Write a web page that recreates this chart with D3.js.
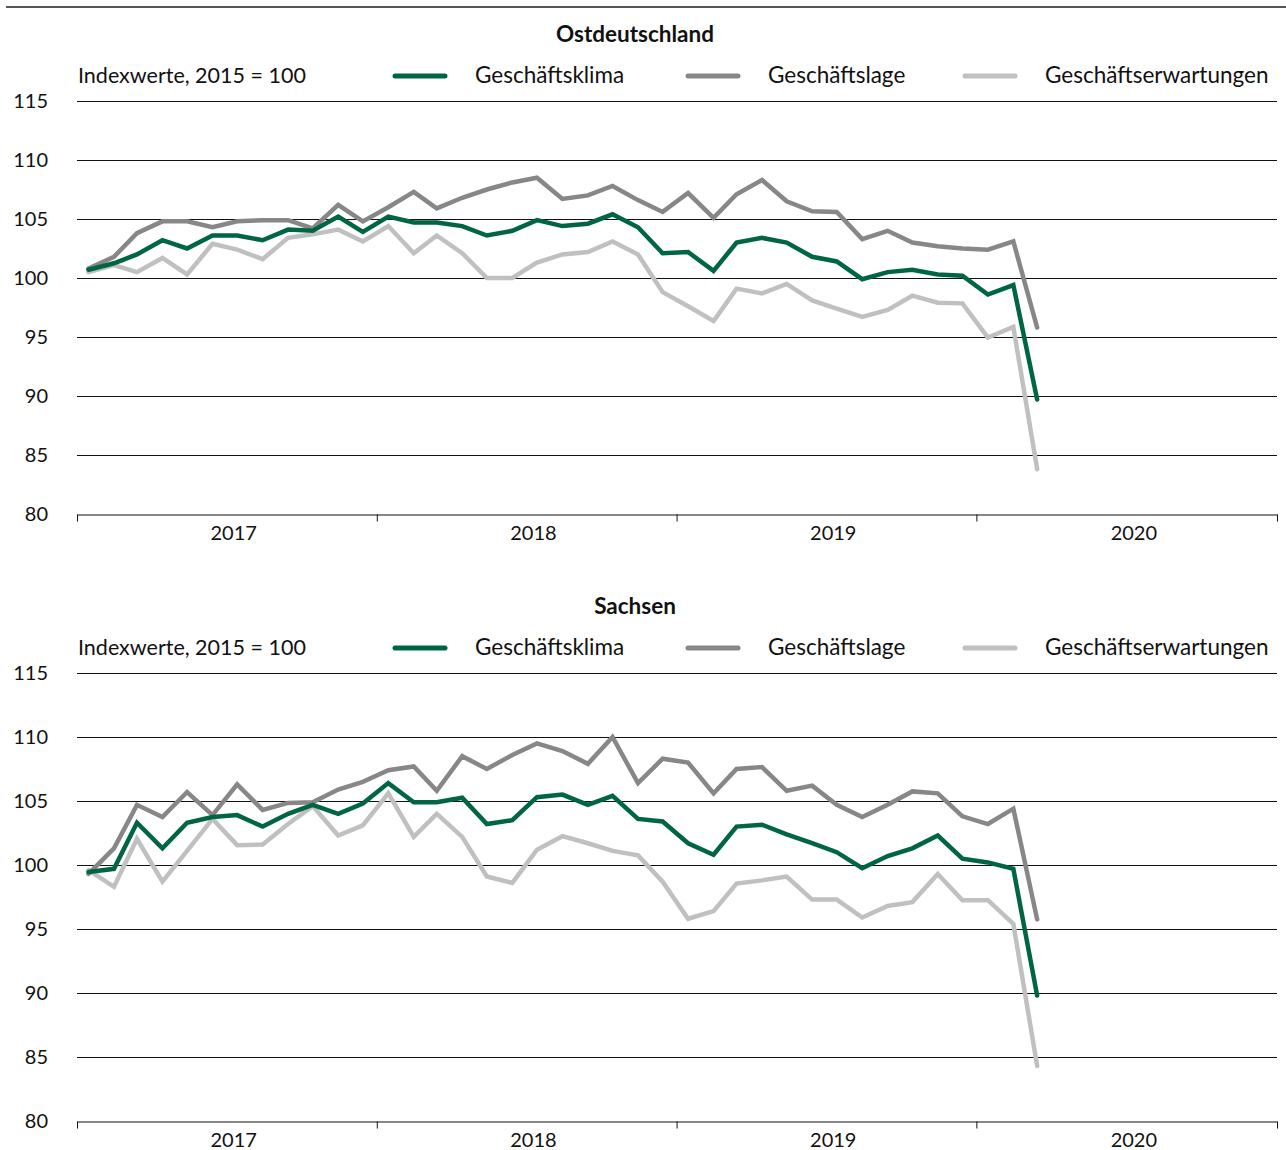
<!DOCTYPE html>
<html>
<head>
<meta charset="utf-8">
<script src="https://cdn.jsdelivr.net/npm/d3@7"></script>
<style>
  body { margin: 0; background: #fff; }
  svg { font-family: Lato, "Open Sans", sans-serif; }
</style>
</head>
<body>
<svg id="chart" width="1286" height="1150"></svg>
<script>
// months Jan 2017 .. Mar 2020
const months = d3.timeMonth.range(new Date(2017, 0, 1), new Date(2020, 3, 1));
const years = [2017, 2018, 2019, 2020];
const yTicks = [80, 85, 90, 95, 100, 105, 110, 115];
const seriesNames = ["Geschäftsklima", "Geschäftslage", "Geschäftserwartungen"];

// Ostdeutschland
const ostKlima = [100.7,101.25,102.0,103.2,102.5, 103.6,103.6,103.2,104.1,104.0, 105.2,103.9,105.2,104.7,104.7,
  104.4,103.6,104.0,104.9,104.4, 104.6,105.4,104.3,102.1,102.2, 100.6,103.0,103.4,103.0,101.8,
  101.4,99.9,100.5,100.7,100.3, 100.2,98.6,99.4,89.7];
const ostLage = [100.8,101.8,103.8,104.8,104.8, 104.3,104.8,104.9,104.9,104.2, 106.2,104.8,106.0,107.3,105.9,
  106.8,107.5,108.1,108.5,106.7, 107.0,107.8,106.6,105.6,107.2, 105.1,107.1,108.3,106.5,105.65,
  105.6,103.3,104.0,103.0,102.7, 102.5,102.4,103.1,95.8];
const ostErw = [100.5,101.1,100.5,101.7,100.3, 102.9,102.4,101.6,103.4,103.7, 104.1,103.1,104.4,102.1,103.6,
  102.1,100.0,100.0,101.3,102.0, 102.2,103.1,102.0,98.8,97.6, 96.35,99.1,98.7,99.5,98.1,
  97.4,96.7,97.3,98.5,97.9, 97.85,94.95,95.85,83.8];

// Sachsen
const saKlima = [99.45,99.7,103.3,101.3,103.3, 103.75,103.9,103.0,104.0,104.7, 104.0,104.8,106.4,104.9,104.9,
  105.25,103.2,103.5,105.3,105.5, 104.7,105.4,103.6,103.4,101.7, 100.8,103.0,103.15,102.4,101.7,
  101.0,99.75,100.7,101.3,102.3, 100.5,100.2,99.7,89.8];
const saLage = [99.3,101.3,104.7,103.75,105.7, 103.9,106.3,104.3,104.85,104.9, 105.9,106.5,107.4,107.7,105.8,
  108.5,107.5,108.6,109.5,108.9, 107.9,110.0,106.4,108.3,108.0, 105.6,107.5,107.65,105.8,106.2,
  104.7,103.75,104.7,105.75,105.6, 103.8,103.2,104.4,95.75];
const saErw = [99.6,98.3,102.05,98.7,101.1, 103.6,101.55,101.6,103.2,104.6, 102.3,103.1,105.6,102.2,104.0,
  102.2,99.1,98.6,101.2,102.25, 101.7,101.1,100.75,98.7,95.8, 96.4,98.55,98.8,99.1,97.3,
  97.3,95.9,96.8,97.1,99.3, 97.25,97.25,95.4,84.3];

const colors = ["#006642", "#878787", "#c0c0c0"];

const svg = d3.select("#chart");

// top rule
svg.append("line")
  .attr("x1", 6).attr("x2", 1286).attr("y1", 7).attr("y2", 7)
  .attr("stroke", "#555").attr("stroke-width", 2);

const x = d3.scaleTime()
  .domain([new Date(2017, 0, 1), new Date(2021, 0, 1)])
  .range([77, 1277]);
const xMid = d => x(d3.timeDay.offset(d, 14.5));

function panel(title, top, bottom, klima, lage, erw) {
  const g = svg.append("g");
  const y = d3.scaleLinear().domain([80, 115]).range([bottom, top]);

  // title
  g.append("text")
    .attr("x", 635).attr("y", top - 59)
    .attr("text-anchor", "middle")
    .attr("font-size", 22.5).attr("font-weight", "bold")
    .attr("fill", "#111")
    .text(title);

  // unit label
  g.append("text")
    .attr("x", 78).attr("y", top - 18)
    .attr("font-size", 21.5).attr("fill", "#111")
    .text("Indexwerte, 2015 = 100");

  // legend
  const legX = [392, 685, 962];
  seriesNames.forEach((name, i) => {
    g.append("line")
      .attr("x1", legX[i] + 3).attr("x2", legX[i] + 53)
      .attr("y1", top - 25).attr("y2", top - 25)
      .attr("stroke", colors[i]).attr("stroke-width", 5)
      .attr("stroke-linecap", "round");
    g.append("text")
      .attr("x", legX[i] + 83).attr("y", top - 18)
      .attr("font-size", 22.5).attr("fill", "#111")
      .text(name);
  });

  // gridlines + y labels
  yTicks.forEach(t => {
    if (t > 80) {
      g.append("line")
        .attr("x1", 77).attr("x2", 1277)
        .attr("y1", Math.round(y(t)) + 0.5).attr("y2", Math.round(y(t)) + 0.5)
        .attr("stroke", "#111").attr("stroke-width", 1);
    }
    g.append("text")
      .attr("x", 48).attr("y", y(t) + 7)
      .attr("text-anchor", "end")
      .attr("font-size", 20).attr("fill", "#111")
      .text(t);
  });

  // x axis
  const xAxis = d3.axisBottom(x)
    .tickValues(years.map(yr => new Date(yr, 0, 1)).concat([new Date(2021, 0, 1)]))
    .tickFormat("")
    .tickSize(7)
    .tickSizeOuter(0);
  const ax = g.append("g")
    .attr("transform", `translate(0,${Math.round(bottom) + 0.5})`)
    .call(xAxis);
  ax.select(".domain").attr("stroke", "#111");
  ax.selectAll(".tick line").attr("stroke", "#111");

  years.forEach(yr => {
    g.append("text")
      .attr("x", x(new Date(yr, 6, 1)) + 8)
      .attr("y", bottom + 26)
      .attr("text-anchor", "middle")
      .attr("font-size", 20).attr("fill", "#111")
      .text(yr);
  });

  // lines: light first, then dark, then green
  const line = d3.line()
    .x((d, i) => xMid(months[i]))
    .y(d => y(d));
  [[erw, 2], [lage, 1], [klima, 0]].forEach(([vals, ci]) => {
    g.append("path")
      .datum(vals)
      .attr("d", line)
      .attr("fill", "none")
      .attr("stroke", colors[ci])
      .attr("stroke-width", 4.5)
      .attr("stroke-linecap", "round")
      .attr("stroke-linejoin", "miter");
  });
}

panel("Ostdeutschland", 101, 514, ostKlima, ostLage, ostErw);
panel("Sachsen", 673, 1121, saKlima, saLage, saErw);
</script>
</body>
</html>
